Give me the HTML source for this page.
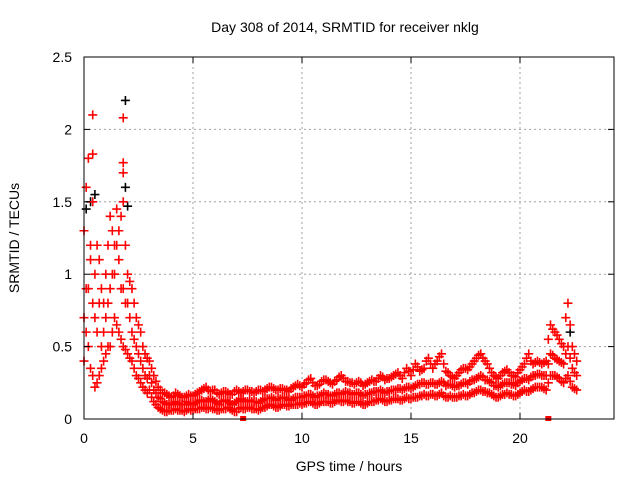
<!DOCTYPE html>
<html><head><meta charset="utf-8"><style>
html,body{margin:0;padding:0;background:#fff;}
svg{display:block;font-family:"Liberation Sans",sans-serif;}
</style></head><body>
<svg id="chart" width="640" height="480" viewBox="0 0 640 480" xmlns="http://www.w3.org/2000/svg">
<rect width="640" height="480" fill="#fff"/>
<g id="grid"></g>
<g id="marks"></g>
<g id="axes"></g>
<text x="345" y="32" font-size="14" text-anchor="middle">Day 308 of 2014, SRMTID for receiver nklg</text>
<text x="349" y="471" font-size="14" text-anchor="middle">GPS time / hours</text>
<text transform="translate(19,238) rotate(-90)" font-size="14" text-anchor="middle">SRMTID / TECUs</text>
</svg>
<script>
const xTicks=[0,5,10,15,20];
const yTicks=[0,0.5,1,1.5,2,2.5];
const yTickLabels=["0","0.5","1","1.5","2","2.5"];
const times=[0,0.2,0.4,0.6,0.8,1,1.2,1.4,1.6,1.8,2,2.2,2.4,2.6,2.8,
3,3.2,3.4,3.6,3.8,4,4.2,4.4,4.6,4.8,5,5.2,5.4,5.6,5.8,6,6.2,6.4,6.6,6.8,7,7.2,7.4,7.6,7.8,8,8.2,8.4,8.6,8.8,9,9.2,9.4,9.6,9.8,
10,10.2,10.4,10.6,10.8,11,11.2,11.4,11.6,11.8,12,12.2,12.4,12.6,12.8,13,13.2,13.4,13.6,13.8,14,14.2,14.4,14.6,14.8,15,15.2,15.4,15.6,15.8,
16,16.2,16.4,16.6,16.8,17,17.2,17.4,17.6,17.8,18,18.2,18.4,18.6,18.8,19,19.2,19.4,19.6,19.8,20,20.2,20.4,20.6,20.8,21,21.2,21.4,21.6,21.8,22,22.2,22.4,22.6];
const valuesMid=[0.7,0.9,0.8,0.6,0.5,0.7,0.9,1.0,1.1,0.9,0.8,0.6,0.5,0.4,0.3,
0.3,0.2,0.15,0.12,0.1,0.1,0.12,0.1,0.1,0.11,0.1,0.12,0.13,0.12,0.14,0.12,0.1,0.13,0.12,0.1,0.12,0.14,0.12,0.13,0.12,0.11,0.13,0.14,0.15,0.13,0.14,0.15,0.13,0.14,0.15,
0.15,0.16,0.17,0.15,0.16,0.18,0.17,0.16,0.18,0.17,0.19,0.18,0.17,0.18,0.16,0.17,0.18,0.19,0.2,0.18,0.19,0.2,0.21,0.2,0.22,0.21,0.23,0.24,0.25,0.24,
0.25,0.24,0.26,0.23,0.24,0.22,0.23,0.25,0.24,0.27,0.28,0.3,0.27,0.26,0.23,0.22,0.24,0.25,0.24,0.23,0.26,0.28,0.27,0.3,0.31,0.3,0.3,0.45,0.42,0.4,0.38,0.5,0.35,0.3];
const valuesHigh=[1.3,1.8,1.5,1.2,0.9,1.0,1.4,1.2,1.3,1.5,1.0,0.9,0.7,0.6,0.45,
0.4,0.3,0.22,0.18,0.17,0.15,0.18,0.16,0.15,0.17,0.16,0.18,0.2,0.22,0.19,0.2,0.17,0.19,0.18,0.17,0.2,0.18,0.2,0.19,0.18,0.2,0.19,0.21,0.22,0.2,0.21,0.2,0.19,0.22,0.24,
0.22,0.25,0.28,0.23,0.24,0.27,0.26,0.24,0.27,0.3,0.26,0.25,0.24,0.26,0.23,0.25,0.27,0.26,0.3,0.27,0.28,0.3,0.32,0.28,0.35,0.3,0.38,0.33,0.35,0.42,
0.35,0.4,0.45,0.33,0.3,0.28,0.32,0.35,0.34,0.38,0.42,0.45,0.4,0.35,0.3,0.28,0.32,0.34,0.3,0.29,0.34,0.38,0.45,0.38,0.4,0.38,0.4,0.65,0.6,0.55,0.5,0.8,0.5,0.4];
const valuesLow=[0.4,0.5,0.3,0.25,0.35,0.45,0.5,0.7,0.6,0.5,0.45,0.4,0.3,0.25,0.2,
0.2,0.12,0.08,0.06,0.05,0.06,0.07,0.06,0.05,0.07,0.06,0.07,0.08,0.07,0.08,0.07,0.06,0.07,0.08,0.06,0.05,0.08,0.07,0.08,0.07,0.06,0.08,0.09,0.1,0.08,0.09,0.1,0.09,0.1,0.1,
0.1,0.11,0.12,0.1,0.11,0.12,0.12,0.11,0.13,0.12,0.13,0.12,0.11,0.12,0.1,0.11,0.12,0.13,0.14,0.12,0.13,0.14,0.14,0.13,0.15,0.14,0.15,0.16,0.17,0.16,
0.17,0.16,0.18,0.15,0.16,0.15,0.16,0.17,0.16,0.18,0.19,0.2,0.19,0.18,0.16,0.15,0.17,0.18,0.17,0.16,0.18,0.2,0.19,0.21,0.22,0.22,0.2,0.3,0.3,0.28,0.25,0.3,0.22,0.2];
const times2=[0.1,0.3,0.5,0.7,0.9,1.1,1.3,1.5,1.7,1.9,2.1,2.3,2.5,2.7,2.9,
3.1,3.3,3.5,3.7,3.9,4.1,4.3,4.5,4.7,4.9,5.1,5.3,5.5,5.7,5.9,6.1,6.3,6.5,6.7,6.9,7.1,7.3,7.5,7.7,7.9,8.1,8.3,8.5,8.7,8.9,9.1,9.3,9.5,9.7,9.9,
10.1,10.3,10.5,10.7,10.9,11.1,11.3,11.5,11.7,11.9,12.1,12.3,12.5,12.7,12.9,13.1,13.3,13.5,13.7,13.9,14.1,14.3,14.5,14.7,14.9,15.1,15.3,15.5,15.7,15.9,
16.1,16.3,16.5,16.7,16.9,17.1,17.3,17.5,17.7,17.9,18.1,18.3,18.5,18.7,18.9,19.1,19.3,19.5,19.7,19.9,20.1,20.3,20.5,20.7,20.9,21.1,21.3,21.5,21.7,21.9,22.1,22.3,22.5];
const valuesMid2=[0.9,1.1,0.7,0.8,0.6,0.8,1.0,1.2,0.9,0.8,0.7,0.55,0.45,0.35,0.28,
0.25,0.18,0.14,0.11,0.1,0.11,0.11,0.1,0.12,0.1,0.11,0.13,0.12,0.13,0.13,0.11,0.12,0.13,0.11,0.11,0.13,0.13,0.12,0.12,0.12,0.12,0.14,0.14,0.14,0.14,0.15,0.14,0.13,0.15,0.15,
0.16,0.17,0.16,0.16,0.17,0.17,0.16,0.17,0.18,0.18,0.18,0.17,0.18,0.17,0.17,0.18,0.19,0.19,0.19,0.19,0.2,0.2,0.21,0.21,0.22,0.22,0.24,0.25,0.24,0.25,
0.24,0.25,0.25,0.24,0.23,0.23,0.24,0.25,0.26,0.27,0.29,0.29,0.27,0.25,0.23,0.23,0.25,0.25,0.24,0.25,0.27,0.28,0.29,0.3,0.31,0.3,0.38,0.44,0.41,0.39,0.45,0.42,0.32];
const valuesHigh2=[1.6,1.2,1.0,1.1,0.8,1.2,1.3,1.45,1.4,1.2,0.95,0.8,0.65,0.5,0.42,
0.35,0.26,0.2,0.18,0.16,0.16,0.17,0.15,0.16,0.16,0.17,0.19,0.21,0.2,0.2,0.18,0.18,0.19,0.17,0.19,0.19,0.19,0.2,0.19,0.19,0.2,0.2,0.22,0.21,0.2,0.21,0.2,0.21,0.23,0.23,
0.24,0.27,0.25,0.23,0.26,0.27,0.25,0.26,0.29,0.28,0.26,0.25,0.25,0.25,0.24,0.26,0.26,0.28,0.29,0.28,0.29,0.31,0.3,0.32,0.33,0.34,0.36,0.34,0.4,0.38,
0.38,0.43,0.38,0.32,0.29,0.3,0.34,0.35,0.36,0.4,0.44,0.42,0.38,0.32,0.29,0.3,0.33,0.32,0.3,0.32,0.36,0.42,0.4,0.39,0.39,0.39,0.55,0.62,0.58,0.52,0.7,0.65,0.45];
const valuesLow2=[0.6,0.35,0.22,0.3,0.4,0.5,0.6,0.65,0.55,0.48,0.42,0.35,0.28,0.22,0.18,
0.15,0.1,0.07,0.05,0.06,0.06,0.06,0.06,0.06,0.06,0.07,0.07,0.08,0.07,0.07,0.06,0.07,0.07,0.07,0.05,0.07,0.07,0.08,0.07,0.07,0.07,0.08,0.1,0.09,0.08,0.1,0.09,0.1,0.1,0.11,
0.11,0.12,0.11,0.1,0.12,0.12,0.11,0.12,0.13,0.12,0.12,0.11,0.12,0.11,0.1,0.12,0.12,0.13,0.13,0.12,0.13,0.14,0.13,0.14,0.14,0.15,0.15,0.16,0.16,0.17,
0.16,0.17,0.16,0.15,0.15,0.15,0.16,0.16,0.17,0.18,0.2,0.19,0.18,0.17,0.15,0.16,0.17,0.17,0.16,0.17,0.19,0.19,0.2,0.22,0.22,0.21,0.25,0.3,0.29,0.26,0.28,0.26,0.21];
const outlierTimes=[0.4,0.4,1.8,1.8,1.8];
const outlierValues=[2.1,1.83,2.08,1.77,1.7];
const blackTimes=[1.9,0.5,0.1,1.9,2.0,0.3,22.3];
const blackValues=[2.2,1.55,1.45,1.6,1.47,1.5,0.6];
const zeroTimes=[7.3,21.3];
const zeroValues=[0,0];

const X0=84,X1=614,Y0=419,Y1=57,XMAX=530/21.8,YMAX=2.5;
const xs=v=>X0+v/XMAX*(X1-X0);
const ys=v=>Y0-v/YMAX*(Y0-Y1);
const NS="http://www.w3.org/2000/svg";
function mk(tag,attrs,parent){const e=document.createElementNS(NS,tag);for(const k in attrs)e.setAttribute(k,attrs[k]);parent.appendChild(e);return e;}
const grid=document.getElementById('grid'),axes=document.getElementById('axes'),marks=document.getElementById('marks');
xTicks.forEach(t=>{const x=xs(t);
 if(t>0){const g=mk('line',{x1:x,x2:x,y1:Y0,y2:Y1,stroke:'#a0a0a0','stroke-dasharray':'2,3'},grid);
 
 }
 mk('line',{x1:x,x2:x,y1:Y0,y2:Y0-6,stroke:'#000'},axes);
 mk('line',{x1:x,x2:x,y1:Y1,y2:Y1+6,stroke:'#000'},axes);
 const l=mk('text',{x:x,y:Y0+24,'font-size':14,'text-anchor':'middle'},axes);l.textContent=t;
 
 
});
yTicks.forEach((t,i)=>{const y=ys(t);
 if(t>0&&t<YMAX){const g=mk('line',{x1:X0,x2:X1,y1:y,y2:y,stroke:'#a0a0a0','stroke-dasharray':'2,3'},grid);
 
 }
 mk('line',{x1:X0,x2:X0+6,y1:y,y2:y,stroke:'#000'},axes);
 mk('line',{x1:X1,x2:X1-6,y1:y,y2:y,stroke:'#000'},axes);
 const l=mk('text',{x:X0-12,y:y+5,'font-size':14,'text-anchor':'end'},axes);l.textContent=yTickLabels[i];
 
 
});
const frame=mk('rect',{x:X0,y:Y1,width:X1-X0,height:Y0-Y1,fill:'none',stroke:'#000'},axes);


function plus(t,v,color,name){const x=xs(t),y=ys(v);
 const p=mk('path',{d:`M${x-4.5},${y}H${x+4.5}M${x},${y-4.5}V${y+4.5}`,stroke:color,'stroke-width':1.6,fill:'none'},marks);
 
 }
for(let i=0;i<blackTimes.length;i++)plus(blackTimes[i],blackValues[i],'#000','black-point');
[valuesMid,valuesHigh,valuesLow].forEach(arr=>{
 for(let i=0;i<Math.min(times.length,arr.length);i++)plus(times[i],arr[i],'#ff0000','red-point');});
[valuesMid2,valuesHigh2,valuesLow2].forEach(arr=>{
 for(let i=0;i<Math.min(times2.length,arr.length);i++)plus(times2[i],arr[i],'#ff0000','red-point');});
for(let i=0;i<outlierTimes.length;i++)plus(outlierTimes[i],outlierValues[i],'#ff0000','red-point');
for(let i=0;i<zeroTimes.length;i++){const x=xs(zeroTimes[i]),y=ys(zeroValues[i]);
 const r=mk('rect',{x:x-3,y:y-3,width:6,height:5,fill:'#ff0000'},marks);
 
 }
</script>
</body></html>
